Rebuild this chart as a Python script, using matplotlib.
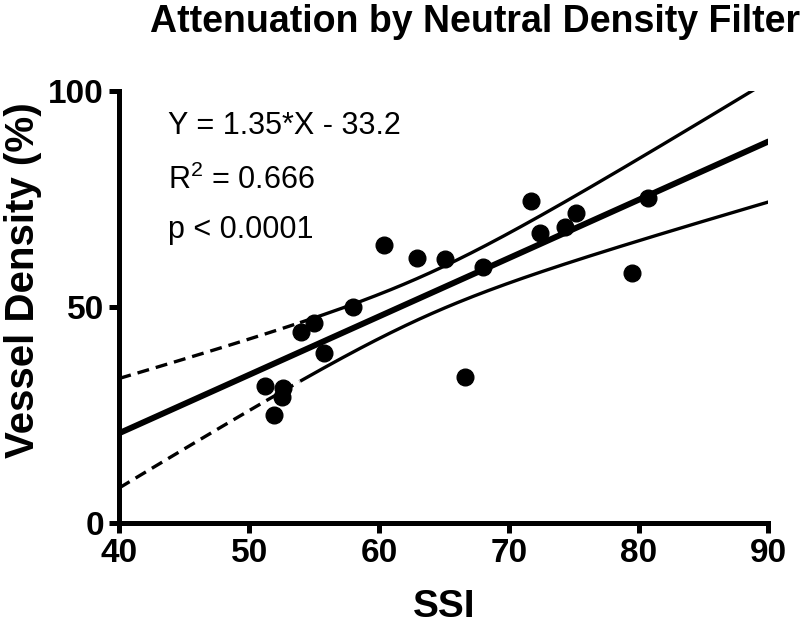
import numpy as np
import matplotlib
matplotlib.use("Agg")
import matplotlib.pyplot as plt

plt.rcParams['font.family'] = ['Liberation Sans', 'DejaVu Sans']
plt.rcParams['mathtext.default'] = 'regular'

# values
ssi = [60.4, 62.9, 65.1, 68.0, 58.0, 55.0, 54.0, 55.8, 51.2, 52.6,
       52.5, 51.9, 66.6, 71.7, 72.4, 74.3, 75.2, 80.7, 79.5]
vessel_density = [64.4, 61.3, 61.0, 59.2, 50.1, 46.2, 44.3, 39.4, 31.7, 31.2,
                  29.1, 25.0, 33.9, 74.6, 67.1, 68.6, 71.7, 75.2, 57.8]
slope = 1.35
intercept = -33.2
t_crit = 2.110  # t(0.975, df=17)
x_ticks = [40, 50, 60, 70, 80, 90]
y_ticks = [0, 50, 100]

x = np.array(ssi)
y = np.array(vessel_density)
n = len(x)
resid = y - (slope * x + intercept)
s = np.sqrt(np.sum(resid ** 2) / (n - 2))
sxx = np.sum((x - x.mean()) ** 2)

xs = np.linspace(40, 90, 300)
fit = slope * xs + intercept
half = t_crit * s * np.sqrt(1 / n + (xs - x.mean()) ** 2 / sxx)
upper = fit + half
lower = fit - half

fig = plt.figure(figsize=(8, 6.26), dpi=100)
ax = fig.add_axes([119.3 / 800, 1 - 523 / 626, (768.3 - 119.3) / 800, (523 - 91) / 626])

split = 54.0
dash = xs <= split
solid = xs >= split
for band in (upper, lower):
    ax.plot(xs[dash], band[dash], color='black', lw=2.4, dashes=(3.6, 2.1))
    ax.plot(xs[solid], band[solid], color='black', lw=2.4)
ax.plot(xs, fit, color='black', lw=4.3, solid_capstyle='round')
ax.plot(x, y, 'o', color='black', markersize=12, clip_on=False)

ax.set_xlim(40, 90)
ax.set_ylim(0, 100)
ax.set_xticks(x_ticks)
ax.set_yticks(y_ticks)
for side in ['top', 'right']:
    ax.spines[side].set_visible(False)
for side in ['left', 'bottom']:
    ax.spines[side].set_linewidth(3.6)
ax.tick_params(width=3.6, length=7, labelsize=24, pad=4)
for lab in ax.get_xticklabels() + ax.get_yticklabels():
    lab.set_fontweight('bold')

ax.set_xlabel('SSI', fontsize=28, fontweight='bold', labelpad=14)
fig.text(23 / 800, 1 - 280 / 626, 'Vessel Density (%)', fontsize=29,
         fontweight='bold', rotation=90, ha='center', va='center')
fig.text(475 / 800, 1 - 22 / 626, 'Attenuation by Neutral Density Filter',
         fontsize=27, fontweight='bold', ha='center', va='center')

ax.text(168 / 800, 1 - 126 / 626, 'Y = 1.35*X - 33.2', transform=fig.transFigure,
        fontsize=22, va='center', ha='left')
ax.text(168 / 800, 1 - 180 / 626, 'R$^{2}$ = 0.666', transform=fig.transFigure,
        fontsize=22, va='center', ha='left')
ax.text(168 / 800, 1 - 230 / 626, 'p < 0.0001', transform=fig.transFigure,
        fontsize=22, va='center', ha='left')

fig.savefig('out.png', dpi=100)
